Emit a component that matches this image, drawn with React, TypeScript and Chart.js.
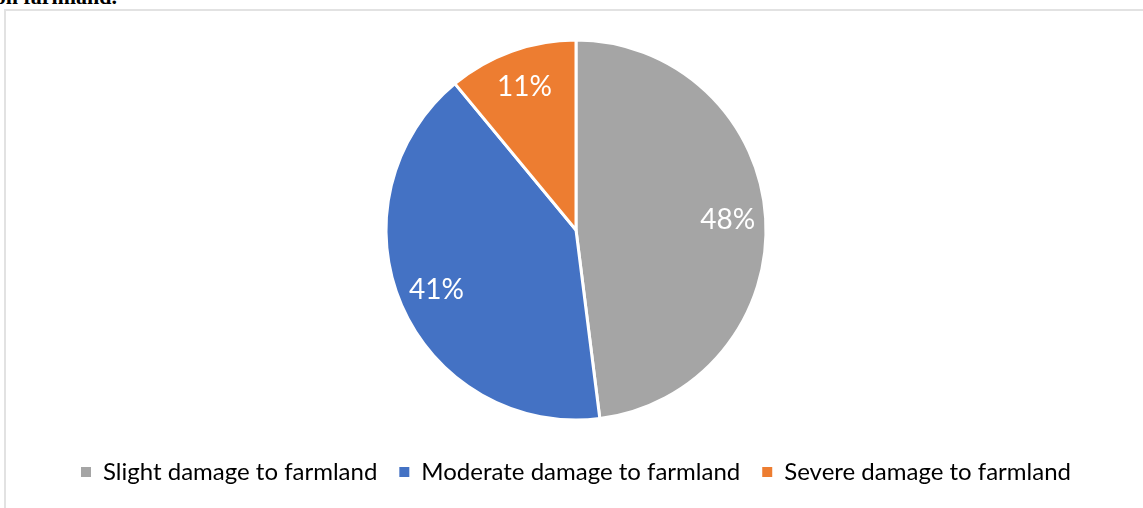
import React, { useEffect, useRef } from "react";
import { Chart, registerables } from "chart.js";

Chart.register(...registerables);

const categories = [
  "Slight damage to farmland",
  "Moderate damage to farmland",
  "Severe damage to farmland",
];
const shares = [48, 41, 11];
const palette = ["#A5A5A5", "#4472C4", "#ED7D31"];

const FONT = "Lato, 'Open Sans', sans-serif";

const labelPlugin = {
  id: "sliceLabels",
  afterDatasetsDraw(chart: any) {
    const ctx = chart.ctx;
    const meta = chart.getDatasetMeta(0);
    ctx.save();
    ctx.fillStyle = "#ffffff";
    ctx.font = `28px ${FONT}`;
    ctx.textAlign = "center";
    ctx.textBaseline = "middle";
    meta.data.forEach((arc: any, i: number) => {
      const p = arc.getProps(["x", "y", "startAngle", "endAngle", "outerRadius"], true);
      const mid = (p.startAngle + p.endAngle) / 2;
      const r = p.outerRadius * 0.8;
      ctx.fillText(
        `${chart.data.datasets[0].data[i]}%`,
        p.x + Math.cos(mid) * r,
        p.y + Math.sin(mid) * r
      );
    });
    ctx.restore();
  },
};

export default function App() {
  const ref = useRef<HTMLCanvasElement | null>(null);

  useEffect(() => {
    if (!ref.current) return;
    const defaultGen = (Chart as any).overrides.pie.plugins.legend.labels.generateLabels;
    const chart = new Chart(ref.current, {
      type: "pie",
      data: {
        labels: categories,
        datasets: [
          {
            data: shares,
            backgroundColor: palette,
            borderColor: "#ffffff",
            borderWidth: 3,
          },
        ],
      },
      options: {
        responsive: false,
        animation: false,
        radius: 190,
        layout: { padding: { top: 22, bottom: 14, left: 9, right: 0 } },
        plugins: {
          tooltip: { enabled: false },
          legend: {
            position: "bottom",
            labels: {
              boxWidth: 10,
              boxHeight: 10,
              padding: 22,
              color: "#000000",
              font: { family: FONT, size: 24 },
              generateLabels: (c: any) =>
                defaultGen(c).map((it: any) => ({ ...it, lineWidth: 0, strokeStyle: it.fillStyle })),
            },
          },
        },
      } as any,
      plugins: [labelPlugin],
    });
    return () => chart.destroy();
  }, []);

  return (
    <div
      style={{
        position: "fixed",
        left: 0,
        top: 0,
        width: 1143,
        height: 508,
        overflow: "hidden",
        background: "#ffffff",
      }}
    >
      <div
        style={{
          position: "absolute",
          right: 1143 - 117,
          top: -14,
          lineHeight: "22px",
          fontFamily: "'Liberation Serif', serif",
          fontWeight: "bold",
          fontSize: 22,
          whiteSpace: "nowrap",
          color: "#000",
        }}
      >
        on farmland.
      </div>
      <div
        style={{
          position: "absolute",
          left: 4,
          top: 9,
          width: 1160,
          height: 520,
          border: "2px solid #e2e2e2",
          boxSizing: "border-box",
        }}
      />
      <canvas
        ref={ref}
        width={1143}
        height={508}
        style={{ position: "absolute", left: 0, top: 0, width: 1143, height: 508 }}
      />
    </div>
  );
}
